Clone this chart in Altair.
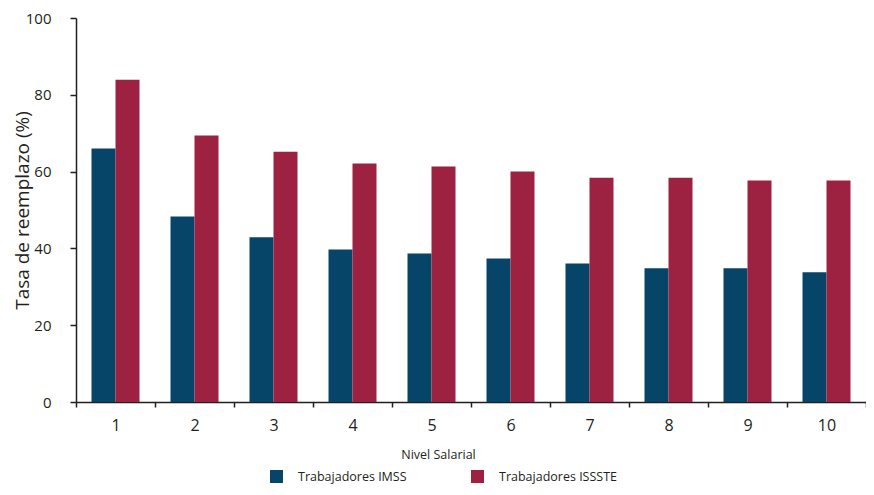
import altair as alt
import pandas as pd

niveles = ["1", "2", "3", "4", "5", "6", "7", "8", "9", "10"]
imss = [66.0, 48.3, 42.9, 39.7, 38.7, 37.4, 36.1, 34.8, 34.8, 33.8]
issste = [83.9, 69.4, 65.2, 62.1, 61.3, 60.0, 58.4, 58.4, 57.7, 57.7]
series = ["Trabajadores IMSS", "Trabajadores ISSSTE"]
colors = ["#064568", "#9D2140"]

rows = []
for n, a, b in zip(niveles, imss, issste):
    rows.append({"nivel": n, "serie": series[0], "valor": a})
    rows.append({"nivel": n, "serie": series[1], "valor": b})
df = pd.DataFrame(rows)

FONT = "Open Sans"
AXC = "#231f20"

chart = alt.Chart(df).mark_bar().encode(
    x=alt.X("nivel:N", sort=niveles,
            scale=alt.Scale(paddingInner=0, paddingOuter=0),
            axis=alt.Axis(title="Nivel Salarial", labelAngle=0, tickBand="extent",
                          labelFontSize=16, labelPadding=10, labelColor=AXC,
                          tickSize=5, tickColor=AXC, domainColor=AXC,
                          domainWidth=1.5, tickWidth=1.5,
                          titleFontSize=12.5, titleFontWeight="normal", titleColor=AXC,
                          titleX=362, titleY=56, titleBaseline="alphabetic",
                          titleAlign="center", grid=False)),
    xOffset=alt.XOffset("serie:N", sort=series,
                        scale=alt.Scale(paddingInner=0, paddingOuter=0.646)),
    y=alt.Y("valor:Q",
            scale=alt.Scale(domain=[0, 100], nice=False),
            axis=alt.Axis(title="Tasa de reemplazo (%)", values=[0, 20, 40, 60, 80, 100],
                          labelFontSize=15, labelPadding=19, labelColor=AXC,
                          tickSize=6, tickColor=AXC, domainColor=AXC,
                          domainWidth=1.5, tickWidth=1.5,
                          titleFontSize=19, titleFontWeight="normal", titleColor=AXC,
                          titleX=-54, titleY=192, titleAngle=270,
                          titleAlign="center", titleBaseline="middle", grid=False)),
    color=alt.Color("serie:N", sort=series,
                    scale=alt.Scale(domain=series, range=colors),
                    legend=alt.Legend(title=None, orient="none", legendX=194, legendY=452,
                                      direction="horizontal", symbolType="square",
                                      symbolSize=169, symbolStrokeWidth=0,
                                      labelFontSize=12.5, labelOffset=15,
                                      columnPadding=64, labelColor=AXC, padding=0)),
).properties(
    width=790, height=384,
    autosize=alt.AutoSizeParams(type="none"),
    padding={"left": 68, "top": 10, "right": 0, "bottom": 85},
).configure(font=FONT).configure_view(stroke=None)

chart.save("out.html", embed_options={"renderer": "svg", "actions": False})
